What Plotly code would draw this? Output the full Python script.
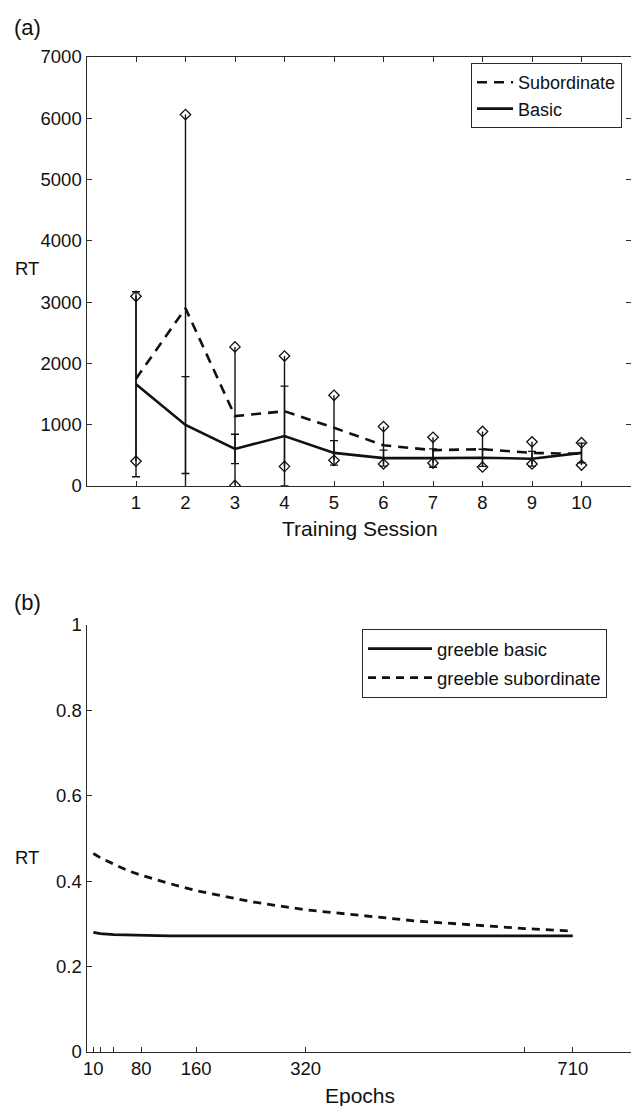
import plotly.graph_objects as go

# ---------------- Panel (a) data ----------------
sessions = [1, 2, 3, 4, 5, 6, 7, 8, 9, 10]
sub_mean = [1750, 2900, 1140, 1220, 950, 664, 585, 600, 540, 524]
sub_err = [1345, 3160, 1130, 900, 530, 305, 210, 290, 180, 182]
basic_mean = [1660, 995, 605, 815, 540, 455, 455, 460, 445, 540]
basic_err = [1510, 790, 240, 815, 200, 130, 150, 140, 120, 160]
y_ticks_a = [0, 1000, 2000, 3000, 4000, 5000, 6000, 7000]

# ---------------- Panel (b) data ----------------
epochs = [10, 20, 40, 60, 80, 120, 160, 240, 320, 480, 640, 710]
greeble_sub = [0.465, 0.455, 0.440, 0.425, 0.414, 0.395, 0.378, 0.352, 0.333, 0.307, 0.289, 0.283]
greeble_basic = [0.280, 0.277, 0.275, 0.274, 0.273, 0.272, 0.272, 0.272, 0.272, 0.272, 0.272, 0.272]
epoch_tickvals = [10, 20, 40, 80, 160, 320, 640, 710]
epoch_ticktext = ["10", "", "", "80", "160", "320", "", "710"]
y_ticks_b = [0, 0.2, 0.4, 0.6, 0.8, 1]
y_ticktext_b = ["0", "0.2", "0.4", "0.6", "0.8", "1"]

FONT = "Liberation Sans, Arial, Helvetica, sans-serif"
INK = "#111111"
AX = "#2a2a2a"
W, H = 631, 1106

fig = go.Figure()

# Subordinate (dashed) with error bars ending in diamonds
fig.add_trace(go.Scatter(
    x=sessions, y=sub_mean, mode="lines", name="Subordinate",
    line=dict(color=INK, width=2.6, dash="10px,7px"),
    error_y=dict(type="data", array=sub_err, symmetric=True,
                 color=INK, thickness=1.4, width=0),
    xaxis="x", yaxis="y", legend="legend",
))
# Basic (solid) with tee error bars
fig.add_trace(go.Scatter(
    x=sessions, y=basic_mean, mode="lines", name="Basic",
    line=dict(color=INK, width=2.6),
    error_y=dict(type="data", array=basic_err, symmetric=True,
                 color=INK, thickness=1.4, width=4),
    xaxis="x", yaxis="y", legend="legend",
))
# Diamond markers at the ends of the subordinate error bars
ends_x = sessions + sessions
ends_y = [m + e for m, e in zip(sub_mean, sub_err)] + [m - e for m, e in zip(sub_mean, sub_err)]
fig.add_trace(go.Scatter(
    x=ends_x, y=ends_y, mode="markers", showlegend=False,
    marker=dict(symbol="diamond-open", size=8, color=INK, line=dict(width=1.3, color=INK)),
    xaxis="x", yaxis="y",
))

# Panel (b)
fig.add_trace(go.Scatter(
    x=epochs, y=greeble_basic, mode="lines", name="greeble basic",
    line=dict(color=INK, width=2.8), legendgroup="gb",
    xaxis="x2", yaxis="y2", legend="legend2",
))
fig.add_trace(go.Scatter(
    x=epochs, y=greeble_sub, mode="lines", name="greeble subordinate",
    line=dict(color=INK, width=2.8, dash="8px,6px"), legendgroup="gs",
    xaxis="x2", yaxis="y2", legend="legend2",
))

x_dom = [86.5 / W, 1.0]
ya_dom = [1 - 486 / H, 1 - 57 / H]
yb_dom = [1 - 1052 / H, 1 - 625 / H]

axis_common = dict(
    showline=True, linecolor=AX, linewidth=1.2,
    ticks="inside", ticklen=5, tickwidth=1.2, tickcolor=AX,
    showgrid=False, zeroline=False, automargin=False,
    tickfont=dict(family=FONT, size=18.5, color=INK),
)

fig.update_layout(
    width=W, height=H,
    margin=dict(l=0, r=0, t=0, b=0, pad=0, autoexpand=False),
    paper_bgcolor="white", plot_bgcolor="white",
    font=dict(family=FONT, size=18, color=INK),
    xaxis=dict(domain=x_dom, anchor="y", range=[0, 11],
               tickvals=sessions, mirror="ticks", **axis_common),
    yaxis=dict(domain=ya_dom, anchor="x", range=[0, 7000],
               tickvals=y_ticks_a, mirror="ticks", **axis_common),
    xaxis2=dict(domain=x_dom, anchor="y2", range=[0, 795],
                tickvals=epoch_tickvals, ticktext=epoch_ticktext, **axis_common),
    yaxis2=dict(domain=yb_dom, anchor="x2", range=[0, 1],
                tickvals=y_ticks_b, ticktext=y_ticktext_b, **axis_common),
    legend=dict(x=471 / W, y=1 - 63 / H, xanchor="left", yanchor="top",
                bgcolor="white", bordercolor=AX, borderwidth=1,
                font=dict(family=FONT, size=18, color=INK),
                tracegroupgap=0, itemwidth=36),
    legend2=dict(x=362 / W, y=1 - 629 / H, xanchor="left", yanchor="top",
                 bgcolor="white", bordercolor=AX, borderwidth=1,
                 font=dict(family=FONT, size=18.5, color=INK),
                 tracegroupgap=2, itemwidth=64),
    showlegend=True,
)

ann_font = dict(family=FONT, size=18.5, color=INK)
fig.add_annotation(text="(a)", x=12 / W, y=1 - 27 / H, xref="paper", yref="paper",
                   xanchor="left", yanchor="middle", showarrow=False,
                   font=dict(family=FONT, size=22, color=INK))
fig.add_annotation(text="(b)", x=12 / W, y=1 - 602 / H, xref="paper", yref="paper",
                   xanchor="left", yanchor="middle", showarrow=False,
                   font=dict(family=FONT, size=22, color=INK))
fig.add_annotation(text="RT", x=27 / W, y=1 - 268 / H, xref="paper", yref="paper",
                   xanchor="center", yanchor="middle", showarrow=False, font=ann_font)
fig.add_annotation(text="RT", x=27 / W, y=1 - 857 / H, xref="paper", yref="paper",
                   xanchor="center", yanchor="middle", showarrow=False, font=ann_font)
fig.add_annotation(text="Training Session", x=360 / W, y=1 - 528 / H, xref="paper", yref="paper",
                   xanchor="center", yanchor="middle", showarrow=False,
                   font=dict(family=FONT, size=21, color=INK))
fig.add_annotation(text="Epochs", x=360 / W, y=1 - 1095 / H, xref="paper", yref="paper",
                   xanchor="center", yanchor="middle", showarrow=False,
                   font=dict(family=FONT, size=21, color=INK))

fig.write_html(
    "out.html",
    config={"displayModeBar": False},
    post_script="document.body.style.margin='0';document.body.style.overflow='hidden';",
)
